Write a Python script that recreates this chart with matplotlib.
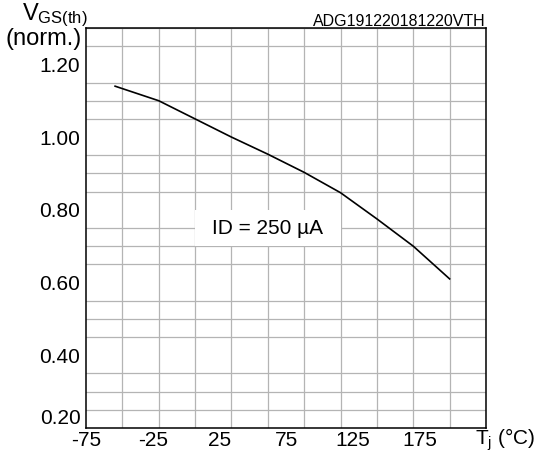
import numpy as np
import matplotlib
matplotlib.use('Agg')
import matplotlib.pyplot as plt
from matplotlib.patches import Rectangle

# curve: normalized gate threshold voltage vs junction temperature
tj = [-55, -25, 0, 25, 50, 75, 100, 125, 150, 175]
vgs_norm = [1.14, 1.10, 1.05, 1.00, 0.953, 0.903, 0.847, 0.775, 0.70, 0.61]

x_labels = ['-75', '-25', '25', '75', '125', '175']
y_ticks = [0.20, 0.40, 0.60, 0.80, 1.00, 1.20]
y_labels = ['0.20', '0.40', '0.60', '0.80', '1.00', '1.20']

plt.rcParams['font.family'] = ['Liberation Sans', 'DejaVu Sans']
plt.rcParams['mathtext.default'] = 'regular'

fig = plt.figure(figsize=(5.44, 4.57), dpi=100)
ax = fig.add_axes([86 / 544, 29 / 457, 400 / 544, 400 / 457])

ax.set_xlim(-75, 200)
ax.set_ylim(0.2, 1.3)

# grid every 25 deg / 0.05
ax.set_xticks(np.arange(-75, 201, 25), minor=True)
ax.set_yticks(np.arange(0.2, 1.301, 0.05), minor=True)
ax.grid(True, which='minor', color='#b4b4b4', linewidth=0.9, zorder=0)
ax.grid(False, which='major')

# labels spread evenly, not on the grid
ax.set_xticks(np.linspace(-75, 200, 7)[:6])
ax.set_xticklabels(x_labels)
ax.set_yticks(y_ticks)
ax.set_yticklabels(y_labels)
ax.tick_params(which='both', length=0, labelsize=15, colors='black')
ax.tick_params(axis='x', pad=2)
ax.tick_params(axis='y', pad=4)
ax.get_yticklabels()[0].set_verticalalignment('bottom')

for s in ax.spines.values():
    s.set_color('black')
    s.set_linewidth(1.1)
    s.set_zorder(5)

# white label box
ax.add_patch(Rectangle((0, 0.70), 100, 0.10, facecolor='white', edgecolor='none', zorder=2))
ax.text(50, 0.75, 'ID = 250 µA', ha='center', va='center', fontsize=15, zorder=3)

ax.plot(tj, vgs_norm, color='black', linewidth=1.2, zorder=4)

fig.text(475 / 544, 1 - 445 / 457, r'T$_\mathregular{j}$ (°C)', fontsize=15, ha='left', va='baseline')
fig.text(22 / 544, 1 - 20 / 457, r'V$_{\mathregular{GS(th)}}$', fontsize=17, ha='left', va='baseline')
fig.text(82 / 544, 1 - 45 / 457, '(norm.)', fontsize=17, ha='right', va='baseline')
fig.text(486 / 544, 1 - 26 / 457, 'ADG191220181220VTH', fontsize=11.5, ha='right', va='baseline')

fig.savefig('out.png', dpi=100, facecolor='white')
